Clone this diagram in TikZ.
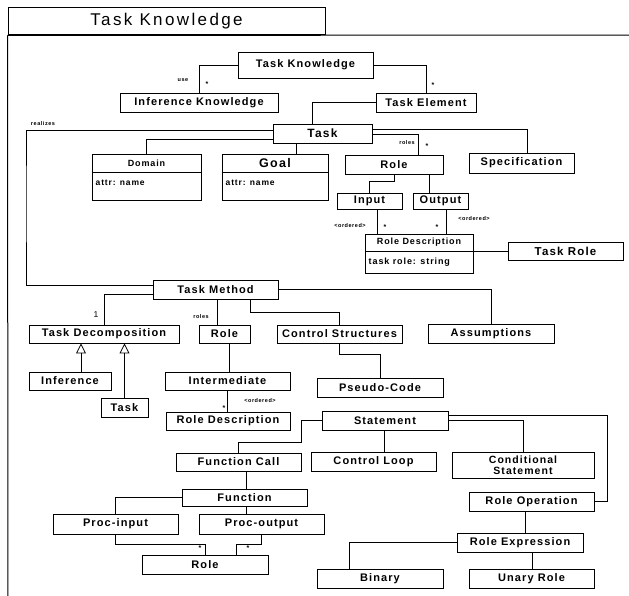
\documentclass[tikz,border=0pt]{standalone}
\usepackage{fontspec}
\setmainfont{Liberation Sans}
\newfontfamily\boxfont[LetterSpace=10]{Liberation Sans}
\newfontfamily\titlefont[LetterSpace=14]{Liberation Sans}
\usetikzlibrary{arrows.meta}

\tikzset{
  frameline/.style={line width=1pt},
  box/.style={draw, line width=0.95pt, inner sep=0pt,
    font=\boxfont\bfseries\fontsize{11}{13}\selectfont},
  sz/.style 2 args={minimum width=#1pt, minimum height=#2pt},
  midtext/.style={font=\boxfont\bfseries\fontsize{9}{11}\selectfont},
  attrtext/.style={inner sep=0pt, anchor=west,
    font=\boxfont\bfseries\fontsize{8.5}{10}\selectfont},
  conn/.style={line width=0.8pt},
  tag/.style={inner sep=0pt, font=\boxfont\bfseries\fontsize{5.5}{6}\selectfont},
  mult/.style={inner sep=0pt, font=\bfseries\fontsize{7}{7}\selectfont},
  inherit/.style={conn, -{Triangle[open, length=10pt, width=10pt, line width=0.8pt]}},
}

\begin{document}
\begin{tikzpicture}[x=1pt, y=-1pt]
\useasboundingbox (0,0) rectangle (629,596);

% frame with its name tab
\node[draw, frameline, inner sep=0pt, minimum width=317pt, minimum height=27pt,
  font=\titlefont\fontsize{17}{20}\selectfont] (title) at (166.5,21.5) {Task Knowledge};
\coordinate (frame-right) at (640,35);
\coordinate (frame-bottom) at (8,610);
\draw[frameline] (title.south west) -- (frame-right);
\draw[frameline] (title.south west) -- (frame-bottom);

% ---------------- task knowledge ----------------
\node[box, sz={135}{26}] (tk) at (305.5,65) {Task Knowledge};
\node[box, sz={158}{19}] (ik) at (199,102.5) {Inference Knowledge};
\node[box, sz={100}{19}] (te) at (426,102.5) {Task Element};
\node[box, sz={99}{19}, font=\boxfont\bfseries\fontsize{12}{14}\selectfont] (task) at (322.5,133.5) {Task};

% classes with one attribute
\node[box, sz={109}{46}] (domain) at (146.5,177) {};
\draw[line width=0.9pt] ([yshift=-19pt]domain.north west) -- ([yshift=-19pt]domain.north east);
\node[box, draw=none, midtext] (domain-name) at ([yshift=-9.5pt]domain.north) {Domain};
\node[attrtext] (domain-attr) at ([xshift=4pt,yshift=-29pt]domain.north west) {attr: name};

\node[box, sz={106}{46}] (goal) at (275,177) {};
\draw[line width=0.9pt] ([yshift=-19pt]goal.north west) -- ([yshift=-19pt]goal.north east);
\node[box, draw=none, font=\boxfont\bfseries\fontsize{12.5}{14}\selectfont] (goal-name) at ([yshift=-9.5pt]goal.north) {Goal};
\node[attrtext] (goal-attr) at ([xshift=4pt,yshift=-29pt]goal.north west) {attr: name};

\node[box, sz={98}{19}] (role1) at (394,164.5) {Role};
\node[box, sz={105}{20}] (spec) at (521.5,163) {Specification};
\node[box, sz={65}{16}] (input) at (369.5,201) {Input};
\node[box, sz={55}{16}] (output) at (440.5,201) {Output};

\node[box, sz={108}{39}] (rd1) at (419,253.5) {};
\draw[line width=0.9pt] ([yshift=-18pt]rd1.north west) -- ([yshift=-18pt]rd1.north east);
\node[box, draw=none, midtext] (rd1-name) at ([yshift=-9pt]rd1.north) {Role Description};
\node[attrtext, font=\boxfont\bfseries\fontsize{9}{10}\selectfont] (rd1-attr) at ([xshift=4pt,yshift=-28.5pt]rd1.north west) {task role: string};

\node[box, sz={115}{18}, font=\boxfont\bfseries\fontsize{11.5}{13}\selectfont] (taskrole) at (565.5,251) {Task Role};

% ---------------- task method ----------------
\node[box, sz={125}{19}] (tm) at (215.5,289.5) {Task Method};
\node[box, sz={150}{18}] (td) at (104,334) {Task Decomposition};
\node[box, sz={51}{18}] (role2) at (224.5,334) {Role};
\node[box, sz={125}{18}] (cs) at (339.5,334) {Control Structures};
\node[box, sz={126}{19}] (assump) at (491,333.5) {Assumptions};
\node[box, sz={82}{18}] (inference) at (70,381) {Inference};
\node[box, sz={47}{19}] (task2) at (124.5,407.5) {Task};
\node[box, sz={125}{18}] (inter) at (227.5,381) {Intermediate};
\node[box, sz={124}{18}] (rd2) at (228,421) {Role Description};
\node[box, sz={126}{19}] (pc) at (380,387.5) {Pseudo-Code};
\node[box, sz={126}{19}] (stmt) at (385,420.5) {Statement};
\node[box, sz={125}{18}] (fc) at (238.5,462) {Function Call};
\node[box, sz={125}{19}] (cl) at (373.5,461.5) {Control Loop};
\node[box, sz={142}{26}, align=center, font=\boxfont\bfseries\fontsize{10.5}{11}\selectfont] (cond) at (523,465) {Conditional\\Statement};
\node[box, sz={125}{19}] (ro) at (531.5,501.5) {Role Operation};
\node[box, sz={126}{19}] (re) at (520,542.5) {Role Expression};
\node[box, sz={126}{19}] (binary) at (380,578.5) {Binary};
\node[box, sz={125}{19}] (unary) at (531.5,578.5) {Unary Role};
\node[box, sz={125}{17}] (func) at (244.5,497.5) {Function};
\node[box, sz={125}{20}] (pi) at (115.5,524) {Proc-input};
\node[box, sz={125}{20}] (po) at (261.5,524) {Proc-output};
\node[box, sz={126}{19}] (role3) at (205,564.5) {Role};

% ---------------- connectors: task knowledge ----------------
\draw[conn] (tk.west) -| (ik.north);
\node[tag] (use-lbl) at (183,80) {use};
\node[mult] (ik-mult) at (207,84) {*};

\draw[conn] (tk.east) -| (te.north);
\node[mult] (te-mult) at (433,85) {*};

\draw[conn] (te.west) -| ([xshift=-10.5pt]task.north);

\coordinate (realize-bend) at (26,200);
\draw[conn] ([yshift=3.5pt]task.west) -| (realize-bend) |- ([yshift=4.5pt]tm.west);
\node[tag] (realizes-lbl) at (43,124) {realizes};

\draw[conn] ([yshift=-5.5pt]task.west) -| (domain.north);
\draw[conn] ([xshift=21pt]goal.north) -- ([xshift=21pt]goal.north |- task.south);
\draw[conn] ([yshift=-0.5pt]task.east) -| ([xshift=24pt]role1.north);
\node[tag] (roles1-lbl) at (407,143) {roles};
\node[mult] (role1-mult) at (427,146) {*};
\draw[conn] ([yshift=4.5pt]task.east) -| ([xshift=5.5pt]spec.north);

\draw[conn] (role1.south) -- ++(0,7) -| (input.north);
\draw[conn] ([xshift=-11.5pt]output.north) -- ([xshift=-11.5pt]output.north |- role1.south);

\draw[conn] ([xshift=7.5pt]input.south) -- ([xshift=7.5pt]input.south |- rd1.north);
\draw[conn] ([xshift=5.5pt]output.south) -- ([xshift=5.5pt]output.south |- rd1.north);
\node[tag] (ord1-lbl) at (350,226) {<ordered>};
\node[mult] (in-mult) at (385,227) {*};
\node[mult] (out-mult) at (437,227) {*};
\node[tag] (ord2-lbl) at (474,219) {<ordered>};
\draw[conn] (rd1.east |- taskrole.west) -- (taskrole.west);

% ---------------- connectors: task method ----------------
\draw[conn] ([yshift=-4.5pt]tm.west) -| (td.north);
\node[inner sep=0pt, font=\fontsize{8.5}{9}\selectfont] (one-lbl) at (96,315) {1};
\draw[conn] ([xshift=-7.5pt]role2.north) -- ([xshift=-7.5pt]role2.north |- tm.south);
\node[tag] (roles2-lbl) at (201,317) {roles};
\draw[conn] ([xshift=34.5pt]tm.south) -- ++(0,13) -| (cs.north);
\draw[conn] ([yshift=0.5pt]tm.east) -| (assump.north);

\draw[inherit] ([xshift=11pt]inference.north) -- ([xshift=11pt]inference.north |- td.south);
\draw[inherit] (task2.north) -- (task2.north |- td.south);

\draw[conn] ([xshift=4.5pt]role2.south) -- ([xshift=4.5pt]role2.south |- inter.north);
\draw[conn] (inter.south) -- (inter.south |- rd2.north);
\node[mult] (rd2-mult) at (224,408) {*};
\node[tag] (ord3-lbl) at (260,401) {<ordered>};

\draw[conn] (cs.south) -- ++(0,11) -| (pc.north);

\draw[conn] (stmt.west) -| ++(-20,22) -| (fc.north);
\draw[conn] ([xshift=-1pt]stmt.south) -- ([xshift=-1pt]stmt.south |- cl.north);
\draw[conn] (stmt.east) -| (cond.north);
\draw[conn] ([yshift=5.5pt]stmt.east) -| ([xshift=13pt]ro.east) -- (ro.east);

\draw[conn] ([xshift=-6.5pt]ro.south) -- ([xshift=-6.5pt]ro.south |- re.north);
\draw[conn] (re.west) -| ([xshift=-31pt]binary.north);
\draw[conn] ([xshift=12pt]re.south) -- ([xshift=12pt]re.south |- unary.north);

\draw[conn] ([xshift=7.5pt]fc.south) -- ([xshift=7.5pt]fc.south |- func.north);
\draw[conn] (func.west) -| (pi.north);
\draw[conn] ([xshift=1.5pt]func.south) -- ([xshift=1.5pt]func.south |- po.north);
\draw[conn] (pi.south) -- ++(0,10) -| (role3.north);
\draw[conn] (po.south) -- ++(0,10) -| ([xshift=31pt]role3.north);
\node[mult] (pi-mult) at (200,548) {*};
\node[mult] (po-mult) at (248,548) {*};

\end{tikzpicture}
\end{document}
